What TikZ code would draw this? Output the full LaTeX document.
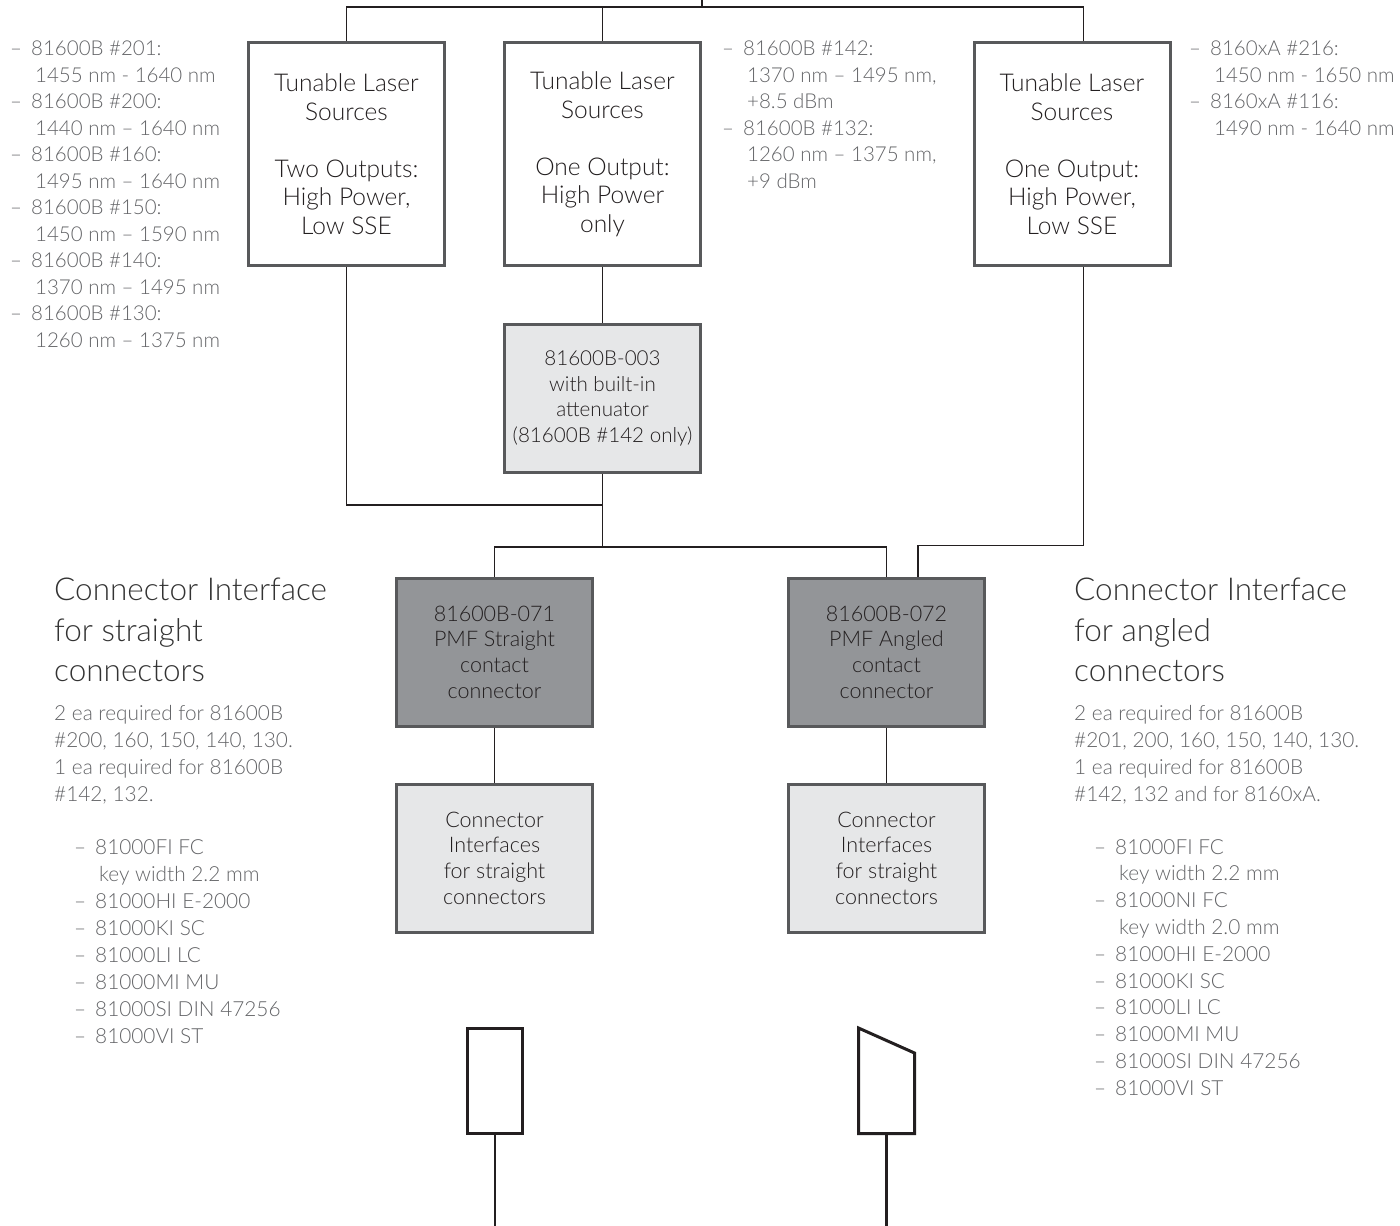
\documentclass[tikz,border=0pt]{standalone}
\usepackage{fontspec}
\setmainfont{Lato Light}
\usetikzlibrary{calc}
\definecolor{boxline}{HTML}{58595B}
\definecolor{connline}{HTML}{231F20}
\definecolor{lightfill}{HTML}{E6E7E8}
\definecolor{darkfill}{HTML}{939598}
\definecolor{boxtext}{HTML}{231F20}
\definecolor{sidetext}{HTML}{636467}
\definecolor{titletext}{HTML}{333333}
\newcommand{\dsh}{\makebox[21pt][l]{–}}
\newcommand{\ind}{\hspace*{25pt}}
\begin{document}
\begin{tikzpicture}[x=1pt,y=-1pt,
  tlsbox/.style={draw=boxline, line width=3pt, fill=white, minimum width=196pt, minimum height=223pt,
    inner sep=0pt, align=center, text=boxtext, font=\fontsize{24.5}{28.5}\selectfont},
  smallbox/.style={draw=boxline, line width=3pt, minimum width=196pt, minimum height=148pt,
    inner sep=0pt, align=center, text=boxtext, font=\fontsize{21.5}{25.7}\selectfont},
  lightbox/.style={smallbox, fill=lightfill},
  darkbox/.style={smallbox, fill=darkfill},
  conn/.style={draw=connline, line width=1.5pt},
  plug/.style={draw=connline, line width=3pt},
  side/.style={anchor=north west, inner sep=0pt, align=left, text=sidetext, font=\fontsize{20.5}{26.5}\selectfont},
  body/.style={anchor=north west, inner sep=0pt, align=left, text=sidetext, font=\fontsize{20.8}{27}\selectfont},
  title/.style={anchor=north west, inner sep=0pt, align=left, text=titletext, font=\fontsize{31.5}{40.5}\selectfont}]
\useasboundingbox (0,0) rectangle (1400,1226);

% boxes
\node[tlsbox] (tls1) at (346.5,154) {Tunable Laser\\Sources\\[28.5pt]Two Outputs:\\High Power,\\Low SSE};
\node[tlsbox] (tls2) at (602.5,154) {Tunable Laser\\Sources\\[28.5pt]One Output:\\High Power\\only};
\node[tlsbox] (tls3) at (1072,154) {Tunable Laser\\Sources\\[28.5pt]One Output:\\High Power,\\Low SSE};
\node[lightbox, font=\fontsize{20.6}{25.7}\selectfont] (att) at (602.5,398.5) {81600B-003\\with built-in\\attenuator\\(81600B \#142 only)};
\node[darkbox] (pmf1) at (494.5,652) {81600B-071\\PMF Straight\\contact\\connector};
\node[darkbox] (pmf2) at (886.5,652) {81600B-072\\PMF Angled\\contact\\connector};
\node[lightbox] (ci1) at (494.5,858) {Connector\\Interfaces\\for straight\\connectors};
\node[lightbox] (ci2) at (886.5,858) {Connector\\Interfaces\\for straight\\connectors};

% connectors
\coordinate (stub) at (702,0);
\coordinate (jt) at (702,7);
\coordinate (j1) at (602.5,505);
\coordinate (j2) at (602.5,547);
\coordinate (t3in) at ($(tls3.north)+(11.5,0)$);
\coordinate (t3out) at ($(tls3.south)+(11.5,0)$);
\coordinate (p2in) at ($(pmf2.north)+(31.5,0)$);
\draw[conn] (jt) -- (stub);
\draw[conn] (tls1.north) |- (jt) -| (t3in);
\draw[conn] (tls2.north) -- (tls2.north |- jt);
\draw[conn] (tls2.south) -- (att.north);
\draw[conn] (tls1.south) |- (j1);
\draw[conn] (att.south) -- (j2);
\draw[conn] (pmf1.north) |- (j2) -| (pmf2.north);
\draw[conn] (t3out) |- ($(p2in)+(0,-31)$) -- (p2in);
\draw[conn] (pmf1.south) -- (ci1.north);
\draw[conn] (pmf2.south) -- (ci2.north);

% plugs
\node[plug, minimum width=55pt, minimum height=105pt, inner sep=0pt] (plug1) at (495,1081) {};
\coordinate (e1) at (495,1226);
\draw[plug, line width=2.5pt] (plug1.south) -- (e1);
\coordinate (a1) at (858.5,1028);
\coordinate (a2) at (914.5,1053);
\coordinate (a3) at (914.5,1133.5);
\coordinate (a4) at (858.5,1133.5);
\coordinate (a5) at (886.5,1133.5);
\coordinate (e2) at (886.5,1226);
\draw[plug, line join=miter] (a1) -- (a2) -- (a3) -- (a4) -- cycle;
\draw[plug, line width=2.5pt] (a5) -- (e2);

% side texts
\node[side] (lsrc) at (10,41) {\dsh 81600B \#201:\\\ind 1455 nm - 1640 nm\\
\dsh 81600B \#200:\\\ind 1440 nm – 1640 nm\\
\dsh 81600B \#160:\\\ind 1495 nm – 1640 nm\\
\dsh 81600B \#150:\\\ind 1450 nm – 1590 nm\\
\dsh 81600B \#140:\\\ind 1370 nm – 1495 nm\\
\dsh 81600B \#130:\\\ind 1260 nm – 1375 nm};
\node[side] (msrc) at (722,41) {\dsh 81600B \#142:\\\ind 1370 nm – 1495 nm,\\\ind +8.5 dBm\\
\dsh 81600B \#132:\\\ind 1260 nm – 1375 nm,\\\ind +9 dBm};
\node[side] (rsrc) at (1189,41) {\dsh 8160xA \#216:\\\ind 1450 nm - 1650 nm\\
\dsh 8160xA \#116:\\\ind 1490 nm - 1640 nm};

% left description
\node[title] (ltitle) at (54,578) {Connector Interface\\for straight\\connectors};
\node[body] (lbody) at (54,705) {2 ea required for 81600B\\\#200, 160, 150, 140, 130.\\1 ea required for 81600B\\\#142, 132.};
\node[body] (llist) at (74,839) {\dsh 81000FI FC\\\ind key width 2.2 mm\\\dsh 81000HI E-2000\\\dsh 81000KI SC\\\dsh 81000LI LC\\\dsh 81000MI MU\\\dsh 81000SI DIN 47256\\\dsh 81000VI ST};

% right description
\node[title] (rtitle) at (1074,578) {Connector Interface\\for angled\\connectors};
\node[body] (rbody) at (1074,705) {2 ea required for 81600B\\\#201, 200, 160, 150, 140, 130.\\1 ea required for 81600B\\\#142, 132 and for 8160xA.};
\node[body, font=\fontsize{20.8}{26.8}\selectfont] (rlist) at (1094,839) {\dsh 81000FI FC\\\ind key width 2.2 mm\\\dsh 81000NI FC\\\ind key width 2.0 mm\\\dsh 81000HI E-2000\\\dsh 81000KI SC\\\dsh 81000LI LC\\\dsh 81000MI MU\\\dsh 81000SI DIN 47256\\\dsh 81000VI ST};
\end{tikzpicture}
\end{document}
